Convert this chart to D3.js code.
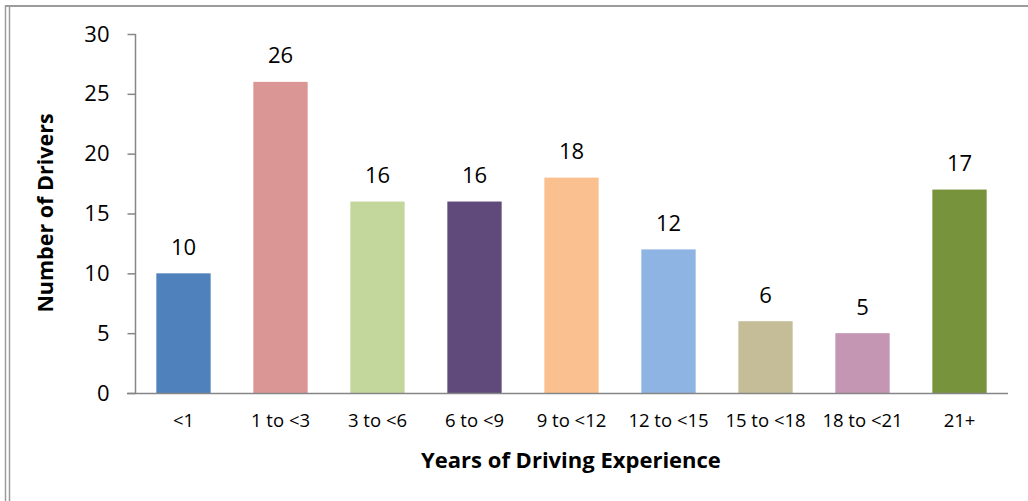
<!DOCTYPE html>
<html>
<head>
<meta charset="utf-8">
<script src="https://cdn.jsdelivr.net/npm/d3@7"></script>
<style>
  html, body { margin: 0; padding: 0; background: #fff; }
  svg { display: block; }
  text { font-family: "Open Sans", "Liberation Sans", sans-serif; fill: #000; }
</style>
</head>
<body>
<svg id="chart" width="1028" height="501"></svg>
<script>
// Drivers grouped by years of driving experience
const categories = ["<1", "1 to <3", "3 to <6", "6 to <9", "9 to <12", "12 to <15", "15 to <18", "18 to <21", "21+"];
const drivers = [10, 26, 16, 16, 18, 12, 6, 5, 17];
const barColors = ["#4F81BD", "#D99694", "#C3D69B", "#604A7B", "#FAC090", "#8EB4E3", "#C4BD97", "#C496B4", "#77933C"];
const yTicks = [0, 5, 10, 15, 20, 25, 30];
const xTitle = "Years of Driving Experience";
const yTitle = "Number of Drivers";

const svg = d3.select("#chart");

// frame: double rule on the left, single rule along the top
const frameColor = "#9c9c9c";
svg.append("line").attr("x1", 5.5).attr("x2", 5.5).attr("y1", 5).attr("y2", 501)
  .attr("stroke", frameColor).attr("stroke-width", 1.5);
svg.append("line").attr("x1", 9.5).attr("x2", 9.5).attr("y1", 5).attr("y2", 501)
  .attr("stroke", frameColor).attr("stroke-width", 1.5);
svg.append("line").attr("x1", 5).attr("x2", 1028).attr("y1", 6).attr("y2", 6)
  .attr("stroke", frameColor).attr("stroke-width", 2);

const plot = { left: 135, right: 1008, top: 34, bottom: 393 };

const x = d3.scaleBand()
  .domain(categories)
  .range([plot.left, plot.right])
  .paddingInner(0.44)
  .paddingOuter(0.22);

const y = d3.scaleLinear()
  .domain([0, 30])
  .range([plot.bottom, plot.top]);

const axisColor = "#868686";

// bars
svg.append("g").selectAll("rect")
  .data(categories)
  .join("rect")
  .attr("x", d => x(d))
  .attr("width", x.bandwidth())
  .attr("y", (d, i) => y(drivers[i]))
  .attr("height", (d, i) => y(0) - y(drivers[i]))
  .attr("fill", (d, i) => barColors[i]);

// value labels
svg.append("g").selectAll("text")
  .data(categories)
  .join("text")
  .attr("x", d => x(d) + x.bandwidth() / 2)
  .attr("y", (d, i) => y(drivers[i]) - 18.5)
  .attr("text-anchor", "middle")
  .style("font-size", "22px")
  .text((d, i) => drivers[i]);

// y axis
const yAxis = svg.append("g")
  .attr("transform", `translate(${plot.left + 0.5},0)`)
  .call(d3.axisLeft(y).tickValues(yTicks).tickSize(8).tickPadding(18).tickFormat(d3.format("d")));
yAxis.select(".domain").attr("stroke", axisColor).attr("stroke-width", 1.5)
  .attr("d", `M0,${plot.top}H0V${plot.bottom}`);
yAxis.selectAll(".tick line").attr("stroke", axisColor).attr("stroke-width", 1.5);
yAxis.selectAll(".tick text").style("font-size", "22px").style("font-family", "'Open Sans', sans-serif").attr("fill", "#000");

// x axis
const xAxis = svg.append("g")
  .attr("transform", `translate(0,${plot.bottom + 0.5})`)
  .call(d3.axisBottom(x).tickSize(0).tickPadding(20));
xAxis.select(".domain").attr("stroke", axisColor).attr("stroke-width", 1.5)
  .attr("d", `M${plot.left - 8},0H${plot.right}`);
xAxis.selectAll(".tick text").style("font-size", "18.5px").style("font-family", "'Open Sans', sans-serif").attr("fill", "#000");

// axis titles
svg.append("text")
  .attr("x", 571).attr("y", 468)
  .attr("text-anchor", "middle")
  .style("font-size", "22px").style("font-weight", "bold")
  .text(xTitle);

svg.append("text")
  .attr("transform", "translate(53,213) rotate(-90)")
  .attr("text-anchor", "middle")
  .style("font-size", "21.5px").style("font-weight", "bold")
  .text(yTitle);
</script>
</body>
</html>
